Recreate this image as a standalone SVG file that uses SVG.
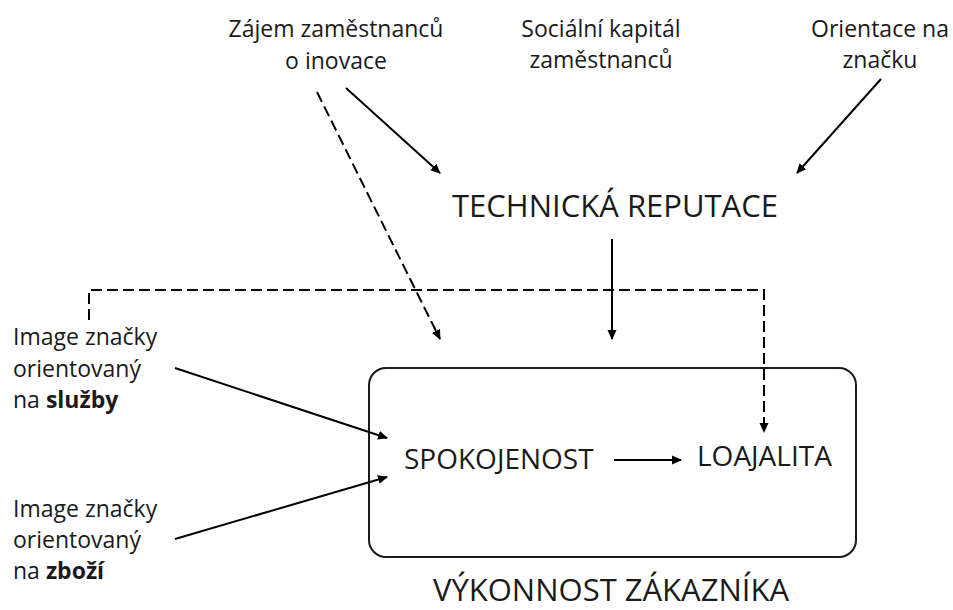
<svg xmlns="http://www.w3.org/2000/svg" width="953" height="610" viewBox="0 0 953 610">
  <defs>
    <marker id="arrow" viewBox="0 0 10 10" refX="9" refY="5" markerWidth="10" markerHeight="10" markerUnits="userSpaceOnUse" orient="auto">
      <path d="M0,0.5 L10,5 L0,9.5 Z" fill="#000"/>
    </marker>
    <style>
      text { font-family: "Open Sans", "Noto Sans", "DejaVu Sans", sans-serif; fill: #1a1a1a; }
      .small { font-size: 23px; }
      .big { font-size: 31px; }
      .inner { font-size: 28px; }
      .mid { text-anchor: middle; }
      .line { stroke: #000; stroke-width: 2; fill: none; }
      .dash { stroke-dasharray: 11 5; }
      .frame { stroke: #1a1a1a; stroke-width: 2; fill: none; }
    </style>
  </defs>
  <rect width="953" height="610" fill="#fff"/>

  <!-- outer frame: customer performance -->
  <g id="vykonnost">
    <rect class="frame" x="369" y="368" width="487" height="189" rx="17"/>
    <text class="big mid" x="611" y="601">VÝKONNOST ZÁKAZNÍKA</text>
  </g>

  <g id="zajem">
    <text class="small mid" x="336" y="37">Zájem zaměstnanců</text>
    <text class="small mid" x="336" y="69">o inovace</text>
  </g>

  <g id="socialni-kapital">
    <text class="small mid" x="601" y="37">Sociální kapitál</text>
    <text class="small mid" x="601" y="68">zaměstnanců</text>
  </g>

  <g id="orientace">
    <text class="small mid" x="880" y="37">Orientace na</text>
    <text class="small mid" x="880" y="68">značku</text>
  </g>

  <g id="technicka-reputace">
    <text class="big mid" x="615" y="217">TECHNICKÁ REPUTACE</text>
  </g>

  <g id="image-sluzby">
    <text class="small" x="13" y="345">Image značky</text>
    <text class="small" x="13" y="377">orientovaný</text>
    <text class="small" x="13" y="408">na <tspan font-weight="bold">služby</tspan></text>
  </g>

  <g id="image-zbozi">
    <text class="small" x="13" y="517">Image značky</text>
    <text class="small" x="13" y="548">orientovaný</text>
    <text class="small" x="13" y="579">na <tspan font-weight="bold">zboží</tspan></text>
  </g>

  <g id="spokojenost">
    <text class="inner" x="404" y="469">SPOKOJENOST</text>
  </g>

  <g id="loajalita">
    <text class="inner" x="697" y="466">LOAJALITA</text>
  </g>

  <g id="connectors">
    <line class="line" x1="346" y1="88" x2="440" y2="173" marker-end="url(#arrow)"/>
    <line class="line" x1="881" y1="79" x2="797" y2="173" marker-end="url(#arrow)"/>
    <line class="line dash" x1="317" y1="92" x2="440" y2="339" marker-end="url(#arrow)"/>
    <line class="line" x1="612" y1="239" x2="612" y2="339" marker-end="url(#arrow)"/>
    <polyline class="line dash" points="89,320 89,290 764,290 764,432" marker-end="url(#arrow)"/>
    <line class="line" x1="175" y1="368" x2="387" y2="438" marker-end="url(#arrow)"/>
    <line class="line" x1="175" y1="539" x2="387" y2="477" marker-end="url(#arrow)"/>
    <line class="line" x1="614" y1="460" x2="681" y2="460" marker-end="url(#arrow)"/>
  </g>
</svg>
